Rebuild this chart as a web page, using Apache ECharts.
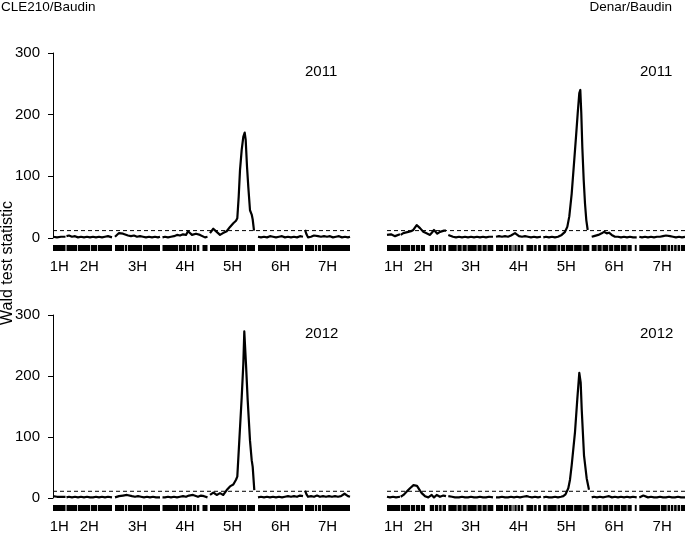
<!DOCTYPE html>
<html><head><meta charset="utf-8">
<script src="https://cdn.jsdelivr.net/npm/echarts@6/dist/echarts.min.js"></script>
<style>html,body{margin:0;padding:0;background:#fff}#c{width:685px;height:534px}</style>
</head><body><div id="c"></div>
<script>
// ---------------- data ----------------
const chromosomes = ['1H', '2H', '3H', '4H', '5H', '6H', '7H'];
const crossNames = ['CLE210/Baudin', 'Denar/Baudin'];
const years = ['2011', '2012'];
const yTickMax = 300;
const yTickStep = 100;
const thresholds2011 = [12, 12];
const thresholds2012 = [11, 11];

// chromosome extents (map position units) for each cross
const cleSegments = [[0, 12.5], [13.5, 59], [62, 107], [109.5, 154.5], [157, 202], [205, 250], [252, 297]];
const denarSegments = [[0, 13], [13.7, 59], [61.3, 106.3], [109, 154], [156.3, 202.3], [204.7, 249.7], [252.3, 298]];

// gaps in marker coverage (rug), [start, end]
const cleRugGaps = [[24, 25], [37, 38], [44, 45], [71, 72], [74, 75], [89, 90], [125, 126], [132, 133], [139, 140], [143, 144],
  [146.3, 149.7], [172, 173], [185, 186], [193, 194], [222, 223], [236, 237], [261, 262], [264, 265], [268, 269]];
const denarRugGaps = [[23, 24], [28, 29], [33, 34], [38, 43], [47, 48], [51.3, 52.3], [54.7, 55.7], [69.7, 70.7], [74.7, 75.7],
  [79.7, 80.7], [89.7, 90.7], [94.7, 95.7], [99.7, 100.7], [116, 117], [121, 122], [124.7, 125.7], [126.6, 127.4], [129.7, 130.7],
  [133, 134], [136.3, 139.7], [146.3, 147.3], [149.7, 151.3], [159.7, 160.7], [169.7, 170.7], [173, 174], [178, 179], [186.3, 187.3],
  [194.7, 195.7], [209.7, 210.7], [214.7, 215.7], [221.3, 222.3], [226.3, 227.3], [233, 234], [239.7, 240.7], [244.7, 248],
  [273, 274], [279.7, 280.7], [283, 284], [286.3, 287.3], [289.7, 290.7], [293, 294]];

// Wald statistic profiles, one list of [position, value] per chromosome
const cle2011 = [
  [[0, 2], [2, 4], [4, 1], [6, 3], [8, 2], [10, 4], [12.5, 2]],
  [[13.5, 3], [16, 4], [19, 2], [22, 3], [25, 1], [28, 2], [31, 1], [34, 2], [37, 1], [40, 2], [43, 1], [46, 2], [49, 1], [52, 2], [55, 3], [59, 1]],
  [[62, 2], [64, 5], [66, 8], [68, 9], [70, 7], [72, 5], [75, 4], [78, 3], [81, 4], [84, 2], [87, 3], [90, 2], [93, 1], [96, 2], [99, 1], [102, 2], [105, 1], [107, 2]],
  [[109.5, 1], [112, 2], [115, 1], [118, 2], [121, 3], [124, 5], [127, 4], [130, 6], [133, 5], [135, 11], [137, 8], [139, 5], [141, 7], [143, 7], [145, 4], [147, 5], [149, 3], [152, 1], [154.5, 2]],
  [[157, 8], [160.3, 15], [162, 14], [163.7, 10], [167, 5], [170, 8], [173.7, 11], [177, 18], [180.3, 24], [183, 28], [184.3, 32], [185.7, 67], [187, 110],
   [188.7, 143], [190.3, 164], [191.7, 171], [192.7, 159], [194, 116], [195.3, 83], [197, 45], [198.7, 38], [199.7, 30], [201, 12]],
  [[205, 2], [208, 1], [211, 2], [214, 1], [217, 3], [220, 2], [223, 1], [226, 2], [229, 3], [232, 1], [235, 2], [238, 1], [241, 2], [244, 1], [247, 3], [250, 2]],
  [[252, 13], [253.5, 6], [255, 1], [258, 2], [261, 4], [263, 5], [265, 3], [268, 2], [271, 3], [274, 2], [277, 3], [280, 1], [283, 2], [286, 3], [289, 1], [292, 2], [295, 1], [297, 2]]
];
const denar2011 = [
  [[0, 5], [2, 4], [4, 6], [6, 5], [8, 3], [10, 4], [13, 6]],
  [[13.7, 5], [16.3, 8], [18, 7], [21.3, 10], [24, 11], [26.3, 13], [28, 16], [29.7, 21], [31.3, 19], [33, 16], [34.5, 14], [36.3, 10], [39, 8], [41, 6], [43, 5],
   [45, 9], [47, 13], [48.5, 10], [50.3, 7], [52, 9], [53, 10], [55, 11], [57, 12], [59, 12]],
  [[61.3, 5], [63, 4], [66, 2], [69, 1], [72, 2], [75, 1], [78, 2], [81, 1], [84, 2], [87, 1], [90, 2], [93, 1], [96, 2], [99, 1], [102, 2], [106, 2]],
  [[109, 2], [112, 3], [115, 2], [118, 3], [121, 2], [124, 4], [126, 6], [128, 8], [130, 5], [132, 3], [135, 2], [138, 3], [141, 2], [144, 1], [147, 2], [150, 1], [154, 2]],
  [[156.3, 1], [159, 2], [162, 1], [165, 2], [168, 1], [171, 2], [174.7, 5], [178, 10], [180.3, 18], [182.3, 35], [184.7, 72], [187, 121], [189, 164], [190.7, 202],
   [192.3, 235], [193.3, 240], [194.3, 202], [195.3, 148], [196.7, 94], [198, 56], [199.3, 29], [200.7, 13]],
  [[204.7, 2], [207, 3], [211.3, 5], [214.7, 7.6], [217, 10], [219.7, 7.6], [222, 8.6], [224.7, 5], [228, 2], [231, 2], [234, 1], [237, 2], [240, 1], [243, 2], [246, 1], [249.7, 1]],
  [[252.3, 2], [255, 1], [258, 2], [261, 1], [264, 2], [267, 1], [270, 2], [273, 2], [276, 3], [279, 4], [281, 5], [283, 3], [286, 2], [289, 1], [292, 2], [295, 1], [298, 2]]
];
const cle2012 = [
  [[0, 3], [2, 1], [4, 2], [6, 1], [8, 2], [10, 1], [12.5, 2]],
  [[13.5, 1], [16, 2], [19, 1], [22, 2], [25, 1], [28, 2], [31, 1], [34, 2], [37, 1], [40, 1], [43, 2], [46, 1], [49, 2], [52, 1], [55, 2], [59, 1]],
  [[62, 1], [64, 2], [66, 3], [68, 2], [70, 4], [72, 3], [74, 5], [76, 4], [79, 3], [82, 2], [85, 3], [88, 2], [91, 1], [94, 2], [97, 1], [100, 2], [103, 1], [107, 1]],
  [[109.5, 1], [112, 1], [115, 2], [118, 1], [121, 2], [124, 1], [127, 2], [130, 3], [133, 2], [136, 4], [138, 3], [140, 5], [142, 3], [145, 2], [148, 4], [151, 3], [154.5, 1]],
  [[157, 5], [160.3, 9], [163.7, 5], [167, 8], [170.3, 5], [173.7, 13], [177, 19], [180.3, 22], [183, 30], [184.3, 35], [186.3, 94], [188.7, 165], [190.3, 219],
   [191.3, 273], [192.3, 270], [193, 219], [194.7, 160], [197, 94], [198.7, 62], [199.7, 51], [201.3, 13]],
  [[205, 1], [208, 2], [211, 1], [214, 2], [217, 1], [220, 2], [223, 1], [226, 2], [229, 1], [232, 2], [235, 3], [238, 2], [241, 3], [244, 2], [247, 4], [250, 3]],
  [[252, 12], [253.5, 6], [255, 2], [258, 3], [261, 2], [264, 4], [267, 2], [270, 3], [273, 2], [276, 3], [279, 2], [282, 3], [285, 2], [288, 3], [290, 5], [291.5, 7], [293, 4], [295, 3], [297, 2]]
];
const denar2012 = [
  [[0, 2], [3, 1], [6, 2], [9, 1], [13, 2]],
  [[13.7, 2], [14.7, 3], [16.5, 5], [18, 8], [20, 11], [21.3, 12], [23, 16], [24.7, 19], [26.5, 21], [28, 22], [30, 20], [31.3, 17], [33, 12], [34.7, 8], [36.5, 5],
   [38, 3], [40, 2], [41.3, 1], [43, 3], [44.7, 5], [46, 3], [47, 1], [48.5, 3], [49.7, 5], [51.5, 3], [53, 2], [55, 3], [56.3, 4], [59, 3]],
  [[61.3, 3], [63, 4], [65, 2], [68, 1], [69.7, 3], [72, 1], [75, 2], [78, 1], [81, 1], [84, 2], [87, 1], [90, 1], [93, 2], [96, 1], [99, 1], [102, 2], [106, 1]],
  [[109, 1], [112, 1], [115, 2], [118, 1], [121, 1], [124, 2], [127, 1], [130, 2], [133, 1], [136, 2], [139.7, 3], [142, 2], [145, 1], [148, 2], [151, 1], [154, 2]],
  [[156.3, 1], [159, 2], [162, 1], [165, 1], [168, 2], [171, 1], [174, 2], [176.3, 3], [178.5, 6], [181.3, 16], [183, 30], [184.7, 54], [188, 108], [190.3, 162],
   [192.3, 205], [193.7, 189], [194.7, 146], [197, 70], [199.7, 32], [202, 13.5]],
  [[204.7, 1], [207, 2], [210, 1], [213, 2], [216, 1], [219, 2], [222, 3], [225, 1], [228, 2], [231, 1], [234, 2], [237, 1], [240, 2], [243, 1], [246, 2], [249.7, 1]],
  [[252.3, 1], [254, 2], [256.3, 4], [258, 2], [261, 1], [264, 2], [267, 1], [270, 1], [273, 2], [276, 1], [279, 1], [282, 2], [285, 1], [288, 1], [291, 2], [294, 1], [298, 1]]
];

// ---------------- chart ----------------
const FONT = '"Liberation Sans", Arial, Helvetica, sans-serif';
const panels = [
  { curves: cle2011, segs: cleSegments, gaps: cleRugGaps, thr: thresholds2011[0], year: years[0], left: true },
  { curves: denar2011, segs: denarSegments, gaps: denarRugGaps, thr: thresholds2011[1], year: years[0], left: false },
  { curves: cle2012, segs: cleSegments, gaps: cleRugGaps, thr: thresholds2012[0], year: years[1], left: true },
  { curves: denar2012, segs: denarSegments, gaps: denarRugGaps, thr: thresholds2012[1], year: years[1], left: false }
];
const gridPos = [
  { left: 53, top: 53, width: 297, height: 185 },
  { left: 387, top: 53, width: 298, height: 185 },
  { left: 53, top: 315, width: 297, height: 185 },
  { left: 387, top: 315, width: 298, height: 185 }
];

const grids = [], xAxes = [], yAxes = [], series = [];
panels.forEach((p, i) => {
  const xmax = p.segs[p.segs.length - 1][1];
  const centers = p.segs.map(s => (s[0] + s[1]) / 2);
  grids.push(Object.assign({ containLabel: false }, gridPos[i]));
  xAxes.push({
    gridIndex: i, type: 'value', min: 0, max: xmax,
    axisLine: { show: false }, axisTick: { show: false }, splitLine: { show: false },
    axisLabel: {
      customValues: centers, margin: 21, fontSize: 15, color: '#000', fontFamily: FONT,
      formatter: v => {
        let best = 0;
        centers.forEach((c, k) => { if (Math.abs(c - v) < Math.abs(centers[best] - v)) best = k; });
        return chromosomes[best];
      }
    }
  });
  yAxes.push({
    gridIndex: i, type: 'value', min: 0, max: yTickMax, interval: yTickStep, show: p.left,
    axisLine: { show: true, lineStyle: { color: '#000', width: 1 } },
    axisTick: { show: true, length: 5, lineStyle: { color: '#000', width: 1 } },
    axisLabel: { fontSize: 15, color: '#000', margin: 13, fontFamily: FONT },
    splitLine: { show: false }
  });
  p.curves.forEach((pts, k) => {
    series.push({
      type: 'line', name: chromosomes[k], xAxisIndex: i, yAxisIndex: i, data: pts,
      symbol: 'none', showSymbol: false, silent: true, z: 4,
      lineStyle: { color: '#000', width: 2.2, join: 'round' }
    });
  });
  series.push({
    type: 'line', xAxisIndex: i, yAxisIndex: i, data: [[0, p.thr], [xmax, p.thr]],
    symbol: 'none', silent: true, z: 3,
    lineStyle: { color: '#000', width: 1, type: [4, 3] }
  });
  series.push({
    type: 'custom', xAxisIndex: i, yAxisIndex: i, clip: false, silent: true, z: 5,
    data: p.segs.map(s => [s[0], s[1], 0]), encode: { x: [0, 1], y: 2 },
    renderItem: (params, api) => {
      const a = api.coord([api.value(0), 0]);
      const b = api.coord([api.value(1), 0]);
      return { type: 'rect', shape: { x: a[0], y: a[1] + 7, width: b[0] - a[0], height: 6 }, style: { fill: '#000' } };
    }
  });
  series.push({
    type: 'custom', xAxisIndex: i, yAxisIndex: i, clip: false, silent: true, z: 6,
    data: p.gaps.map(s => [s[0], s[1], 0]), encode: { x: [0, 1], y: 2 },
    renderItem: (params, api) => {
      const a = api.coord([api.value(0), 0]);
      const b = api.coord([api.value(1), 0]);
      return { type: 'rect', shape: { x: a[0], y: a[1] + 7, width: Math.max(0.8, b[0] - a[0] - 0.2), height: 6 }, style: { fill: '#fff' } };
    }
  });
});

const titleStyle = { fontSize: 13.5, fontWeight: 'normal', color: '#000', fontFamily: FONT };
const yearStyle = { fontSize: 15, fontWeight: 'normal', color: '#000', fontFamily: FONT };
const option = {
  animation: false,
  backgroundColor: '#fff',
  title: [
    { text: crossNames[0], left: 1, top: 0, textStyle: titleStyle, padding: 0 },
    { text: crossNames[1], right: 13, top: 0, textStyle: titleStyle, padding: 0 },
    { text: years[0], left: 305, top: 64, textStyle: yearStyle, padding: 0 },
    { text: years[0], left: 640, top: 64, textStyle: yearStyle, padding: 0 },
    { text: years[1], left: 305, top: 326, textStyle: yearStyle, padding: 0 },
    { text: years[1], left: 640, top: 326, textStyle: yearStyle, padding: 0 }
  ],
  graphic: [{
    type: 'text', x: 8, y: 263, rotation: Math.PI / 2,
    style: { text: 'Wald test statistic', font: '16px ' + FONT, fill: '#000', textAlign: 'center', textVerticalAlign: 'middle' }
  }],
  grid: grids, xAxis: xAxes, yAxis: yAxes, series: series
};
const chart = echarts.init(document.getElementById('c'));
chart.setOption(option);
</script></body></html>
